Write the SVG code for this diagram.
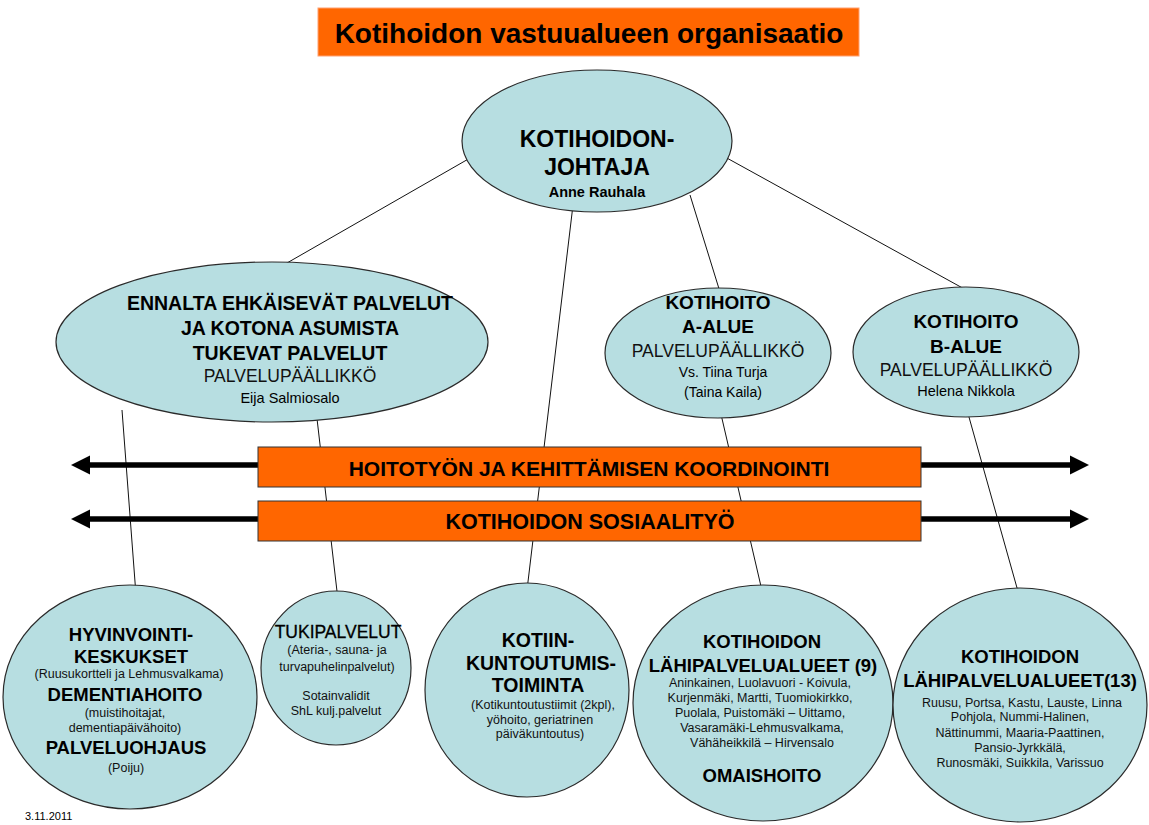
<svg xmlns="http://www.w3.org/2000/svg" width="1149" height="825" viewBox="0 0 1149 825">
  <style>
    text { font-family: "Liberation Sans", Arial, sans-serif; text-anchor: middle; fill: #000; }
    .node { fill: #b7dee1; stroke: #2a2a2a; stroke-width: 1.2; }
    .conn { stroke: #111; stroke-width: 1; fill: none; }
    .bar { fill: #ff6600; stroke: #333; stroke-width: 1; }
    .arrow { stroke: #000; stroke-width: 5.5; fill: none; }
    .b { font-weight: bold; }
    .sm { font-size: 12.5px; fill: #111; }
    .mid { font-size: 17.5px; fill: #111; }
  </style>
  <defs>
    <marker id="head" markerUnits="userSpaceOnUse" markerWidth="20" markerHeight="20" refX="1" refY="10" orient="auto-start-reverse" viewBox="0 0 20 20">
      <path d="M0,0.5 L19,10 L0,19.5 Z" fill="#000"/>
    </marker>
  </defs>

  <rect width="1149" height="825" fill="#fff"/>

  <!-- title -->
  <g id="title">
    <rect x="318" y="8" width="541" height="48" fill="#ff6600" stroke="#ffa070" stroke-width="1"/>
    <text x="589" y="43" class="b" font-size="28">Kotihoidon vastuualueen organisaatio</text>
  </g>

  <!-- connectors -->
  <g id="connectors">
    <line class="conn" x1="498" y1="142" x2="280" y2="267"/>
    <line class="conn" x1="573" y1="205" x2="527" y2="590"/>
    <line class="conn" x1="690" y1="195" x2="720" y2="292"/>
    <line class="conn" x1="725" y1="157" x2="968" y2="291"/>
    <line class="conn" x1="122" y1="410" x2="136" y2="595"/>
    <line class="conn" x1="316" y1="410" x2="338" y2="600"/>
    <line class="conn" x1="720" y1="410" x2="763" y2="595"/>
    <line class="conn" x1="967" y1="410" x2="1019" y2="595"/>
  </g>

  <!-- coordination bars -->
  <g id="arrows">
    <line class="arrow" x1="89" y1="465" x2="1071" y2="465" marker-start="url(#head)" marker-end="url(#head)"/>
    <line class="arrow" x1="89" y1="519" x2="1071" y2="519" marker-start="url(#head)" marker-end="url(#head)"/>
  </g>
  <g id="bar-koordinointi">
    <rect class="bar" x="258" y="447" width="663" height="40"/>
    <text x="589" y="476" class="b" font-size="21">HOITOTYÖN JA KEHITTÄMISEN KOORDINOINTI</text>
  </g>
  <g id="bar-sosiaalityo">
    <rect class="bar" x="258" y="501" width="663" height="40"/>
    <text x="590" y="529" class="b" font-size="21.5">KOTIHOIDON SOSIAALITYÖ</text>
  </g>

  <!-- top level -->
  <g id="johtaja">
    <ellipse class="node" cx="597" cy="141" rx="135" ry="71"/>
    <text x="597" y="147" class="b" font-size="23">KOTIHOIDON-</text>
    <text x="597" y="175" class="b" font-size="23">JOHTAJA</text>
    <text x="597" y="197" class="b" font-size="14.5">Anne Rauhala</text>
  </g>

  <!-- second level -->
  <g id="ennalta">
    <ellipse class="node" cx="272" cy="342" rx="216" ry="80"/>
    <text x="290" y="310" class="b" font-size="19.5">ENNALTA EHKÄISEVÄT PALVELUT</text>
    <text x="290" y="335" class="b" font-size="19.5">JA KOTONA ASUMISTA</text>
    <text x="290" y="360" class="b" font-size="19.5">TUKEVAT PALVELUT</text>
    <text x="290" y="382" class="mid">PALVELUPÄÄLLIKKÖ</text>
    <text x="290" y="403" font-size="14.5" fill="#111">Eija Salmiosalo</text>
  </g>
  <g id="a-alue">
    <ellipse class="node" cx="718" cy="353" rx="113" ry="65"/>
    <text x="718" y="309" class="b" font-size="19">KOTIHOITO</text>
    <text x="718" y="333" class="b" font-size="19">A-ALUE</text>
    <text x="718" y="357" class="mid" font-size="17">PALVELUPÄÄLLIKKÖ</text>
    <text x="723" y="377" font-size="14" fill="#111">Vs. Tiina Turja</text>
    <text x="723" y="397" font-size="14" fill="#111">(Taina Kaila)</text>
  </g>
  <g id="b-alue">
    <ellipse class="node" cx="966" cy="352" rx="113" ry="65"/>
    <text x="966" y="328" class="b" font-size="19">KOTIHOITO</text>
    <text x="966" y="353" class="b" font-size="19">B-ALUE</text>
    <text x="966" y="376" class="mid" font-size="17">PALVELUPÄÄLLIKKÖ</text>
    <text x="966" y="396" font-size="14.5" fill="#111">Helena Nikkola</text>
  </g>

  <!-- third level -->
  <g id="hyvinvointi">
    <ellipse class="node" cx="130" cy="697" rx="127" ry="112"/>
    <text x="131" y="641" class="b" font-size="18.5">HYVINVOINTI-</text>
    <text x="131" y="663" class="b" font-size="18.5">KESKUKSET</text>
    <text x="129" y="678" class="sm" font-size="12">(Ruusukortteli ja Lehmusvalkama)</text>
    <text x="125" y="701" class="b" font-size="18.5">DEMENTIAHOITO</text>
    <text x="125" y="717" class="sm" font-size="12">(muistihoitajat,</text>
    <text x="125" y="732" class="sm" font-size="12">dementiapäivähoito)</text>
    <text x="126" y="754" class="b" font-size="18.5">PALVELUOHJAUS</text>
    <text x="126" y="772" class="sm" font-size="12">(Poiju)</text>
  </g>
  <g id="tukipalvelut">
    <ellipse class="node" cx="336" cy="668" rx="75" ry="77"/>
    <text x="338" y="638" font-size="17.5" fill="#000" stroke="#000" stroke-width="0.3">TUKIPALVELUT</text>
    <text x="337" y="654" class="sm" font-size="12">(Ateria-, sauna- ja</text>
    <text x="337" y="671" class="sm" font-size="12">turvapuhelinpalvelut)</text>
    <text x="336" y="700" class="sm" font-size="12">Sotainvalidit</text>
    <text x="336" y="715" class="sm" font-size="12">ShL kulj.palvelut</text>
  </g>
  <g id="kotiin">
    <ellipse class="node" cx="527" cy="690" rx="102" ry="107"/>
    <text x="538" y="647" class="b" font-size="19.5">KOTIIN-</text>
    <text x="541" y="670" class="b" font-size="19.5">KUNTOUTUMIS-</text>
    <text x="538" y="692" class="b" font-size="19.5">TOIMINTA</text>
    <text x="543" y="709" class="sm" font-size="12.5">(Kotikuntoutustiimit  (2kpl),</text>
    <text x="540" y="724" class="sm" font-size="12.5">yöhoito, geriatrinen</text>
    <text x="540" y="738" class="sm" font-size="12.5">päiväkuntoutus)</text>
  </g>
  <g id="lahipalvelu-9">
    <ellipse class="node" cx="763" cy="703" rx="130" ry="118"/>
    <text x="762" y="648" class="b" font-size="18.5">KOTIHOIDON</text>
    <text x="763" y="672" class="b" font-size="18.5">LÄHIPALVELUALUEET (9)</text>
    <text x="760" y="687" class="sm">Aninkainen, Luolavuori - Koivula,</text>
    <text x="760" y="702" class="sm">Kurjenmäki, Martti, Tuomiokirkko,</text>
    <text x="760" y="717" class="sm">Puolala, Puistomäki – Uittamo,</text>
    <text x="762" y="732" class="sm">Vasaramäki-Lehmusvalkama,</text>
    <text x="762" y="747" class="sm">Vähäheikkilä – Hirvensalo</text>
    <text x="762" y="782" class="b" font-size="18.5">OMAISHOITO</text>
  </g>
  <g id="lahipalvelu-13">
    <ellipse class="node" cx="1020" cy="705" rx="127" ry="117"/>
    <text x="1020" y="663" class="b" font-size="18.5">KOTIHOIDON</text>
    <text x="1020" y="687" class="b" font-size="18.5">LÄHIPALVELUALUEET(13)</text>
    <text x="1022" y="707" class="sm">Ruusu, Portsa, Kastu, Lauste, Linna</text>
    <text x="1020" y="721" class="sm">Pohjola, Nummi-Halinen,</text>
    <text x="1020" y="737" class="sm">Nättinummi, Maaria-Paattinen,</text>
    <text x="1020" y="752" class="sm">Pansio-Jyrkkälä,</text>
    <text x="1020" y="767" class="sm">Runosmäki, Suikkila, Varissuo</text>
  </g>

  <!-- date -->
  <text x="25" y="820" font-size="11" fill="#222" style="text-anchor:start">3.11.2011</text>
</svg>
